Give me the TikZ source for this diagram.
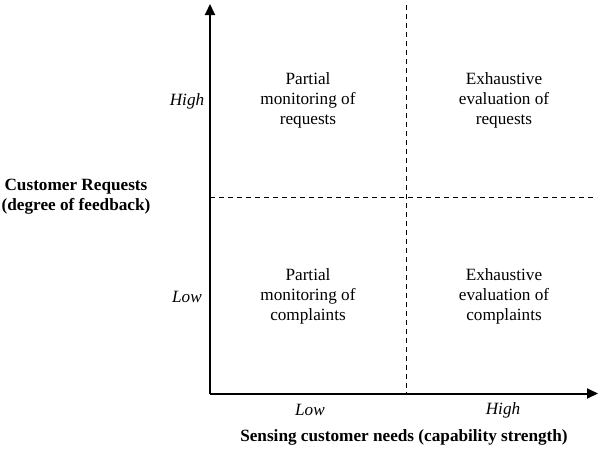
\documentclass[tikz,border=0pt]{standalone}
\usepackage{fontspec}
\setmainfont{Liberation Serif}
\usetikzlibrary{arrows.meta}
\tikzstyle{axis}=[line width=2pt,-{Triangle[length=11pt,width=10pt]}]
\tikzstyle{split}=[line width=1pt,dash pattern=on 5pt off 4pt]
\tikzstyle{cell}=[align=center,font=\fontsize{17.2}{20}\selectfont]
\tikzstyle{level}=[font=\fontsize{17.2}{20}\selectfont\itshape]
\tikzstyle{title}=[align=center,font=\fontsize{17.2}{20}\selectfont\bfseries]

\begin{document}
\begin{tikzpicture}[x=1pt,y=-1pt]
          \useasboundingbox (0,0) rectangle (598,450);
          \coordinate (O) at (210,393.5);
          \coordinate (ytop) at (210,4);
          \coordinate (xend) at (598,393.5);
          \coordinate (vtop) at (406,5);
          \coordinate (vbot) at (406,393.5);
          \coordinate (hleft) at (210,197.5);
          \coordinate (hright) at (597,197.5);
          \draw[split] (vtop) -- (vbot);
          \draw[split] (hleft) -- (hright);
          \draw[axis] (O) -- (ytop);
          \draw[axis] (O) -- (xend);
          \foreach \name/\x/\y/\text in {pr/308/100/{Partial\\monitoring of\\requests},
                                         er/504/100/{Exhaustive\\evaluation of\\requests},
                                         pc/308/296/{Partial\\monitoring of\\complaints},
                                         ec/504/296/{Exhaustive\\evaluation of\\complaints}}
            \node[cell] (\name) at (\x,\y) {\text};
          \node[level] (yhigh) at (187,101) {High};
          \node[level] (ylow) at (187,297) {Low};
          \node[level] (xlow) at (310,410) {Low};
          \node[level] (xhigh) at (503,410) {High};
          \node[title] (ylabel) at (76,197) {Customer Requests\\(degree of feedback)};
          \node[title] (xlabel) at (404,437) {Sensing customer needs (capability strength)};
        \end{tikzpicture}
\end{document}
